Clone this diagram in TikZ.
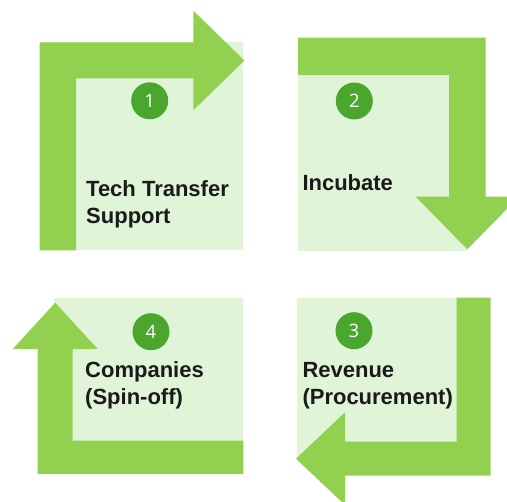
\documentclass[tikz,border=0pt]{standalone}
\usepackage{fontspec}
\setmainfont{Liberation Sans}
\newfontfamily\numfont{Open Sans}
\definecolor{bargreen}{HTML}{92D050}
\definecolor{lightgreen}{HTML}{E0F5D8}
\definecolor{circgreen}{HTML}{4AA62C}
\definecolor{txt}{HTML}{1A1A1A}
\tikzset{
  panel/.style={fill=lightgreen, draw=none},
  bentarrow/.style={fill=bargreen, draw=none},
  numdot/.style={circle, fill=circgreen, minimum size=37pt, inner sep=0pt,
    text=white, font=\numfont\fontsize{18.5}{20}\selectfont},
  label/.style={anchor=base west, inner sep=0pt, text=txt,
    font=\bfseries\fontsize{22}{26}\selectfont}
}
\begin{document}
\begin{tikzpicture}[x=1pt,y=-1pt]
\useasboundingbox (0,0) rectangle (507,502);
% panels
\path[panel] (39.5,42.5) rectangle (243.3,250.5);
\path[panel] (298,37.7) rectangle (467,251);
\path[panel] (296.7,297.7) rectangle (457,459);
\path[panel] (54.3,297.7) rectangle (243.3,474);
% arrows
\path[bentarrow] (39.5,250.5) -- (39.5,42.5) -- (193.3,42.5) -- (193.3,10.7)
  -- (244.5,60.5) -- (193.3,110.3) -- (193.3,78.5) -- (76,78.5) -- (76,250.5) -- cycle;
\path[bentarrow] (298,37.7) -- (485.7,37.7) -- (485.7,196.7) -- (519,196.7)
  -- (467.3,249.3) -- (415.7,196.7) -- (449,196.7) -- (449,75) -- (298,75) -- cycle;
\path[bentarrow] (490.7,297.7) -- (490.7,475.7) -- (345,475.7) -- (345,505)
  -- (296,458.7) -- (345,412.3) -- (345,441.7) -- (456.7,441.7) -- (456.7,297.7) -- cycle;
\path[bentarrow] (243.3,474) -- (37.7,474) -- (37.7,349) -- (12.7,349)
  -- (55.2,302.7) -- (97.7,349) -- (72.7,349) -- (72.7,440.7) -- (243.3,440.7) -- cycle;
% number circles
\node[numdot] (n1) at (149.7,100.8) {1};
\node[numdot] (n2) at (354.3,101) {2};
\node[numdot] (n3) at (354,330.7) {3};
\node[numdot] (n4) at (151,331.7) {4};
% labels
\node[label] (t1a) at (86,196.7) {Tech Transfer};
\node[label] (t1b) at (86,223.3) {Support};
\node[label] (t2) at (302.3,190.7) {Incubate};
\node[label] (t3a) at (302.3,377.7) {Revenue};
\node[label] (t3b) at (302.3,404.3) {(Procurement)};
\node[label] (t4a) at (85,377.7) {Companies};
\node[label] (t4b) at (85,404.3) {(Spin-off)};
\end{tikzpicture}
\end{document}
